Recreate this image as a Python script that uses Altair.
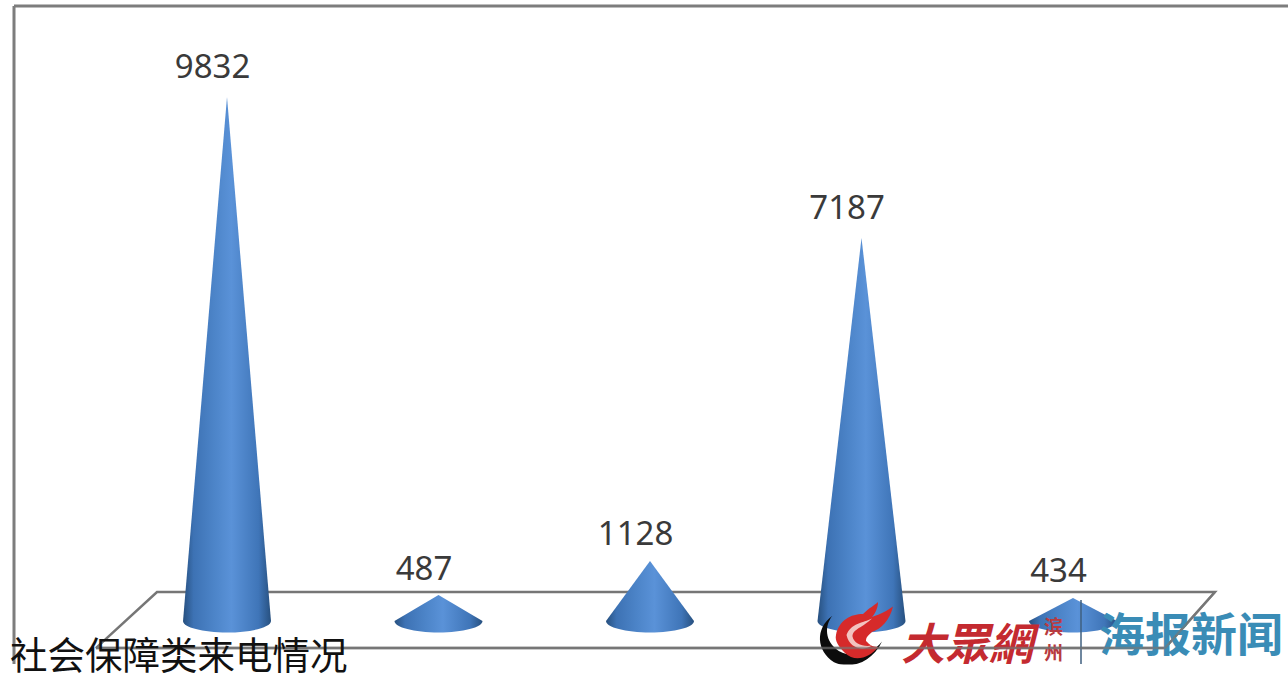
import altair as alt
import pandas as pd

# Call counts per cone, left to right
positions = [0, 1, 2, 3, 4]
calls = [9832, 487, 1128, 7187, 434]

# Floor outline of the 3-D chart, in axis units
floor_x = [-0.62, -0.331, 4.671, 4.435, -0.62]
floor_y = [-507, 544, 544, -507, -507]

TITLE = "社会保障类来电情况"
BASE_HALF_WIDTH = 0.208

X_DOMAIN = [-1.0733, 5.0165]
Y_DOMAIN = [-1050, 11650]
x_scale = alt.Scale(domain=X_DOMAIN, nice=False, zero=False)
y_scale = alt.Scale(domain=Y_DOMAIN, nice=False, zero=False)
no_axis_x = alt.X("x:Q", scale=x_scale, axis=None)
no_axis_y = alt.Y("y:Q", scale=y_scale, axis=None)

cone_rows = []
for pos, value in zip(positions, calls):
    cone_rows += [
        {"cone": pos, "x": pos - BASE_HALF_WIDTH, "y": 0, "y0": 0},
        {"cone": pos, "x": pos, "y": value, "y0": 0},
        {"cone": pos, "x": pos + BASE_HALF_WIDTH, "y": 0, "y0": 0},
    ]
cones_df = pd.DataFrame(cone_rows)
tops_df = pd.DataFrame({"x": positions, "y": calls})
bases_df = pd.DataFrame({"x": positions, "y": [0] * len(positions)})
floor_df = pd.DataFrame({"x": floor_x, "y": floor_y, "i": range(len(floor_x))})

blue = alt.Gradient(
    gradient="linear", x1=0, x2=1, y1=0, y2=0,
    stops=[
        alt.GradientStop(color="#27507f", offset=0),
        alt.GradientStop(color="#3d72b4", offset=0.12),
        alt.GradientStop(color="#4c84c8", offset=0.35),
        alt.GradientStop(color="#5a92d8", offset=0.55),
        alt.GradientStop(color="#3f75b8", offset=0.86),
        alt.GradientStop(color="#27507f", offset=1),
    ],
)

frame_color = "#7d7d7d"
frame_top = alt.Chart(pd.DataFrame({"a": [0]})).mark_rule(
    color=frame_color, strokeWidth=3
).encode(x=alt.value(14), x2=alt.value(1288), y=alt.value(6))
frame_left = alt.Chart(pd.DataFrame({"a": [0]})).mark_rule(
    color=frame_color, strokeWidth=3
).encode(x=alt.value(14), y=alt.value(6), y2=alt.value(664))

floor = alt.Chart(floor_df).mark_line(color="#767676", strokeWidth=2.5).encode(
    x=no_axis_x, y=no_axis_y, order="i:Q"
)
# The right and front edges show through the watermark
floor_over = alt.Chart(floor_df).transform_filter("datum.i >= 2").mark_line(
    color="#767676", strokeWidth=2.5, opacity=0.65
).encode(x=no_axis_x, y=no_axis_y, order="i:Q")

cones = alt.Chart(cones_df).mark_area(fill=blue, interpolate="linear").encode(
    x=no_axis_x,
    y=no_axis_y,
    y2="y0:Q",
    detail="cone:N",
)

# Rounded lower rim of each cone: a half ellipse sitting on the ground line
bases = alt.Chart(bases_df).mark_point(
    shape="M -1 0 A 1 0.26 0 0 0 1 0 Z",
    filled=True,
    fill=blue,
    opacity=1,
    stroke=None,
    size=7744,
).encode(x=no_axis_x, y=no_axis_y)

label_style = dict(font="Noto Sans", fontSize=33, color="#3a3a3a", baseline="middle", dx=-14.5)
labels_tall = alt.Chart(tops_df).transform_filter("datum.y > 5000").mark_text(
    dy=-29, **label_style
).encode(x=no_axis_x, y=no_axis_y, text=alt.Text("y:Q", format="d"))
labels_short = alt.Chart(tops_df).transform_filter("datum.y <= 5000").mark_text(
    dy=-25.5, **label_style
).encode(x=no_axis_x, y=no_axis_y, text=alt.Text("y:Q", format="d"))


def caption(text, x, y, **style):
    return alt.Chart(pd.DataFrame({"t": [text]})).mark_text(
        align="left", baseline="alphabetic", **style
    ).encode(x=alt.value(x), y=alt.value(y), text="t:N")


def glyph(path, x, y, size, color):
    return alt.Chart(pd.DataFrame({"a": [0]})).mark_point(
        shape=path, filled=True, fill=color, opacity=1, stroke=None, size=size
    ).encode(x=alt.value(x), y=alt.value(y))


title = caption(TITLE, 10, 669, font="Noto Sans CJK SC", fontSize=37.5, color="#111111")

# Watermark: flame emblem, site name, city, divider and news brand
crescent = glyph(
    "M -0.55 -0.6 C -1.1 -0.2 -1.05 0.5 -0.5 0.85 C 0 1.1 0.7 0.85 1 0.2 "
    "C 0.7 0.6 0.1 0.75 -0.35 0.5 C -0.8 0.2 -0.8 -0.3 -0.55 -0.6 Z",
    850, 635, 4096, "#0c0c0c",
)
flame = glyph(
    "M -0.9 0.1 C -0.8 -0.4 -0.4 -0.6 0 -0.6 C 0.2 -0.8 0.4 -0.9 0.5 -1 "
    "C 0.5 -0.8 0.4 -0.6 0.3 -0.5 C 0.6 -0.6 0.8 -0.7 1 -0.85 "
    "C 0.9 -0.4 0.6 -0.1 0.3 0 C 0.2 0.1 0.1 0.15 0.1 0.3 "
    "C 0.2 0.4 0.3 0.5 0.5 0.5 C 0.2 0.9 -0.3 1 -0.6 0.7 C -0.8 0.5 -0.95 0.3 -0.9 0.1 Z",
    863, 632, 3600, "#d62a2a",
)
swirl = glyph(
    "M -0.55 0.1 C -0.4 -0.3 0 -0.3 0.3 -0.45 C 0 -0.15 -0.35 -0.1 -0.35 0.15 "
    "C -0.3 0.4 0 0.5 0.3 0.45 C 0 0.65 -0.45 0.55 -0.55 0.1 Z",
    863, 632, 3600, "#f2c4c0",
)
brand_cn = caption("大眾網", 901, 660, font="Noto Sans CJK TC", fontSize=44,
                   fontWeight="bold", fontStyle="italic", color="#c42a30")
brand_city1 = caption("滨", 1044, 634, font="Noto Sans CJK SC", fontSize=19,
                      fontWeight="bold", color="#b83a40")
brand_city2 = caption("州", 1044, 660, font="Noto Sans CJK SC", fontSize=19,
                      fontWeight="bold", color="#b83a40")
divider = alt.Chart(pd.DataFrame({"a": [0]})).mark_rule(
    color="#3f5f7f", strokeWidth=1.5
).encode(x=alt.value(1081), y=alt.value(600), y2=alt.value(664))
news = caption("海报新闻", 1099, 651, font="Noto Sans CJK SC", fontSize=46,
               fontWeight="bold", color="#3a8cb6")

# Blank strip along the bottom edge, beneath the chart title
bottom_strip = alt.Chart(pd.DataFrame({"a": [0]})).mark_rule(
    color="white", strokeWidth=13
).encode(x=alt.value(360), x2=alt.value(1288), y=alt.value(671))

chart = alt.layer(
    frame_top, frame_left, floor, cones, bases, labels_tall, labels_short,
    crescent, flame, swirl, brand_cn, brand_city1, brand_city2, divider, news,
    floor_over, bottom_strip, title,
).resolve_scale(x="shared", y="shared").properties(
    width=1288, height=677, padding=0, autosize=alt.AutoSizeParams(type="none"),
    background="white",
).configure_view(stroke=None)

chart.save("out.html", embed_options={"renderer": "svg", "actions": False})
